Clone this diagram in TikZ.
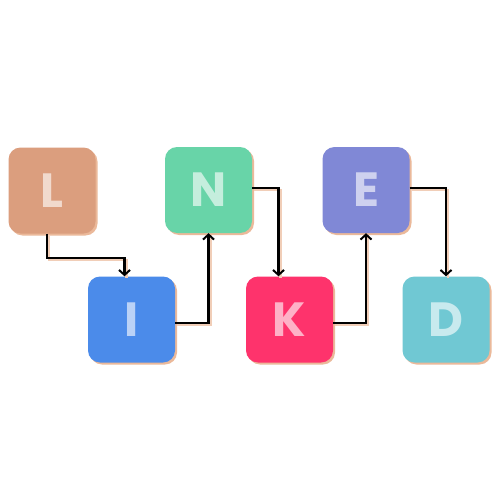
\documentclass[tikz,border=0pt]{standalone}
\usepackage{fontspec}
\setmainfont{Poppins}
\usetikzlibrary{arrows.meta,shadows}
\definecolor{peach}{HTML}{EBB99A}
\definecolor{cL}{HTML}{DB9E7E}
\definecolor{cI}{HTML}{4B8BEA}
\definecolor{cN}{HTML}{68D4A8}
\definecolor{cK}{HTML}{FE336C}
\definecolor{cE}{HTML}{8088D6}
\definecolor{cD}{HTML}{70C8D3}
\tikzset{
  letterbox/.style={rectangle, rounded corners=12pt, minimum width=87pt, minimum height=86pt,
    inner sep=0pt, text=white, text opacity=0.62,
    font=\fontsize{48}{48}\selectfont\bfseries,
    drop shadow={shadow xshift=2pt, shadow yshift=-2pt, fill=peach, opacity=1}},
  conn/.style={draw=black, line width=2.2pt, -{Straight Barb[length=5pt,width=11pt,line width=2pt]}},
  connshadow/.style={draw=peach!70, line width=2.2pt, transform canvas={shift={(2pt,-2pt)}}}
}
\begin{document}
\begin{tikzpicture}[x=1pt,y=-1pt]
\useasboundingbox[fill=white] (0,0) rectangle (500,500);
\node[letterbox, fill=cL] (L) at (52,190.5) {L};
\node[letterbox, fill=cI] (I) at (131.5,319.5) {I};
\node[letterbox, fill=cN] (N) at (208.5,190) {N};
\node[letterbox, fill=cK] (K) at (289.5,319.5) {K};
\node[letterbox, fill=cE] (E) at (366,190) {E};
\node[letterbox, fill=cD] (D) at (446,319.5) {D};
% shadows of connectors
\draw[connshadow] ([xshift=-5pt]L.south) -- ++(0,24) -| ([xshift=-7pt]I.north);
\draw[connshadow] ([yshift=-3.5pt]I.east) -| (N.south);
\draw[connshadow] ([yshift=2pt]N.east) -| ([xshift=-11pt]K.north);
\draw[connshadow] ([yshift=-3.5pt]K.east) -| (E.south);
\draw[connshadow] ([yshift=2pt]E.east) -| (D.north);
% connectors
\draw[conn] ([xshift=-5pt]L.south) -- ++(0,24) -| ([xshift=-7pt]I.north);
\draw[conn] ([yshift=-3.5pt]I.east) -| (N.south);
\draw[conn] ([yshift=2pt]N.east) -| ([xshift=-11pt]K.north);
\draw[conn] ([yshift=-3.5pt]K.east) -| (E.south);
\draw[conn] ([yshift=2pt]E.east) -| (D.north);
\end{tikzpicture}
\end{document}
